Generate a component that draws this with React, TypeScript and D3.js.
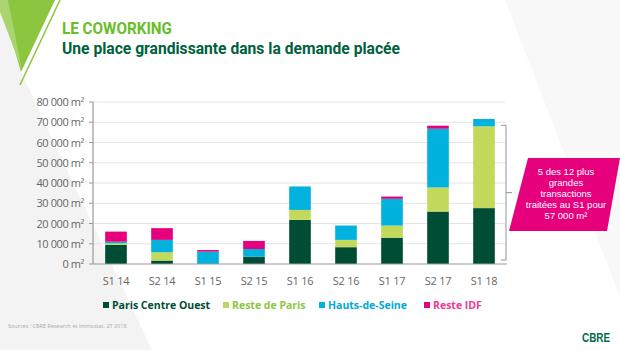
import React from "react";
import * as d3 from "d3";

// semesters
const periods = ["S1 14", "S2 14", "S1 15", "S2 15", "S1 16", "S2 16", "S1 17", "S2 17", "S1 18"];
// m² per zone
const parisCentreOuest = [9400, 1700, 0, 3600, 21800, 8300, 13000, 25900, 27600];
const resteDeParis = [800, 4100, 0, 0, 4900, 3600, 6000, 11900, 40400];
const hautsDeSeine = [800, 6100, 6100, 3800, 11600, 7100, 13200, 29000, 3600];
const resteIDF = [5000, 5800, 800, 4000, 0, 0, 1100, 1500, 0];
const yTicks = [0, 10000, 20000, 30000, 40000, 50000, 60000, 70000, 80000];

const seriesNames = ["Paris Centre Ouest", "Reste de Paris", "Hauts-de-Seine", "Reste IDF"];
const colors = ["#004d36", "#c3d95b", "#00b2dd", "#e6007e"];
const legendText = ["#004d36", "#8cc63f", "#00a9d6", "#ec3b94"];
const calloutLines = ["5 des 12 plus", "grandes", "transactions", "traitées au S1 pour", "57 000 m²"];

const W = 620;
const H = 350;
const left = 93;
const right = 507;
const top = 102;
const bottom = 264;

export default function App() {
  const rows = periods.map((p, i) => ({
    period: p,
    pco: parisCentreOuest[i],
    rdp: resteDeParis[i],
    hds: hautsDeSeine[i],
    idf: resteIDF[i],
  }));
  const keys = ["pco", "rdp", "hds", "idf"];
  const stacked = d3.stack<any>().keys(keys)(rows);

  const x = d3.scaleBand().domain(periods).range([left, right]).paddingInner(0.53).paddingOuter(0.265);
  const y = d3.scaleLinear().domain([0, 80000]).range([bottom, top]);
  const fmt = (v: number) => d3.format(",")(v).replace(/,/g, " ") + " m²";

  // bracket around the S1 18 green+dark part
  const bx = 506;
  const bTop = y(68000) - 1;
  const bBot = y(0) - 4;
  const bMid = (bTop + bBot) / 2;

  const legendX = [103, 223, 319, 424];

  return (
    <svg width={W} height={H} style={{ position: "absolute", left: 0, top: 0 }}>
      <rect width={W} height={H} fill="#fff" />
      {/* background shapes */}
      <polygon points="0,10 21,72 152,350 0,350" fill="#f3f3f3" />
      <polygon points="505,0 620,0 620,297" fill="#f8f8f8" />
      <polygon points="0,0 55,0 21,72" fill="#8cc63f" />
      <polygon points="0,0 8,0 22,70 0,12" fill="#a9d46f" />
      <line x1={60} y1={0} x2={20} y2={85} stroke="#8cc63f" strokeWidth={1.5} />

      {/* titles */}
      <text x={62} y={34} fontFamily="'Liberation Sans Narrow', 'Roboto', sans-serif" fontWeight="bold" fontSize={16.5} fill="#69be28" textLength={110} lengthAdjust="spacingAndGlyphs">
        LE COWORKING
      </text>
      <text x={62} y={53.5} fontFamily="'Liberation Sans Narrow', 'Roboto', sans-serif" fontWeight="bold" fontSize={17} fill="#00613e" textLength={338} lengthAdjust="spacingAndGlyphs">
        Une place grandissante dans la demande placée
      </text>

      {/* grid */}
      {yTicks.map((t) => (
        <g key={t}>
          {t > 0 && <line x1={left} x2={right - 2} y1={y(t)} y2={y(t)} stroke="#e3e3e3" strokeWidth={1} />}
          <line x1={left - 4} x2={left} y1={y(t)} y2={y(t)} stroke="#999" />
          <text x={84} y={y(t) + 4} textAnchor="end" fontFamily="'Open Sans', sans-serif" fontSize={11} fill="#666" letterSpacing={-0.4}>
            {fmt(t)}
          </text>
        </g>
      ))}

      {/* bars */}
      {stacked.map((s, si) => (
        <g key={s.key} fill={colors[si]}>
          {s.map((d, i) =>
            d[1] - d[0] > 0 ? (
              <rect key={i} x={x(periods[i])} y={y(d[1])} width={x.bandwidth()} height={y(d[0]) - y(d[1])} />
            ) : null
          )}
        </g>
      ))}

      {/* axes */}
      <line x1={left} x2={left} y1={top} y2={bottom} stroke="#999" strokeWidth={1.2} />
      <line x1={left} x2={right} y1={bottom} y2={bottom} stroke="#999" strokeWidth={1.2} />
      {periods.map((p) => (
        <text key={p} x={(x(p) as number) + x.bandwidth() / 2} y={285} textAnchor="middle" fontFamily="'Open Sans', sans-serif" fontSize={11} fill="#666" letterSpacing={-0.3}>
          {p}
        </text>
      ))}

      {/* bracket */}
      <path
        d={`M${bx - 5},${bTop} L${bx},${bTop} L${bx},${bBot} L${bx - 5},${bBot} M${bx},${bMid} L${bx + 6},${bMid}`}
        fill="none"
        stroke="#8a9a95"
        strokeWidth={1}
      />

      {/* callout */}
      <polygon points="528,158 620,158 607,231 509,231" fill="#e6007e" />
      {calloutLines.map((l, i) => (
        <text key={i} x={566} y={175 + i * 11} textAnchor="middle" fontFamily="'Liberation Sans', sans-serif" fontSize={9.5} fill="#fff">
          {l}
        </text>
      ))}

      {/* legend */}
      {seriesNames.map((n, i) => (
        <g key={n}>
          <rect x={legendX[i]} y={302} width={6} height={6} fill={colors[i] === "#c3d95b" ? "#bcd85f" : colors[i]} />
          <text x={legendX[i] + 9} y={309} fontFamily="'Open Sans', sans-serif" fontWeight="bold" fontSize={10.5} fill={legendText[i]}>
            {n}
          </text>
        </g>
      ))}

      {/* footer */}
      <text x={8} y={328} fontFamily="'Open Sans', sans-serif" fontSize={5.5} fill="#aaa">
        Sources : CBRE Research et Immostat, 2T 2018
      </text>
      <text x={582} y={342} fontFamily="'Liberation Sans', sans-serif" fontWeight="bold" fontSize={13} fill="#006a4d" textLength={28} lengthAdjust="spacingAndGlyphs">
        CBRE
      </text>
    </svg>
  );
}
